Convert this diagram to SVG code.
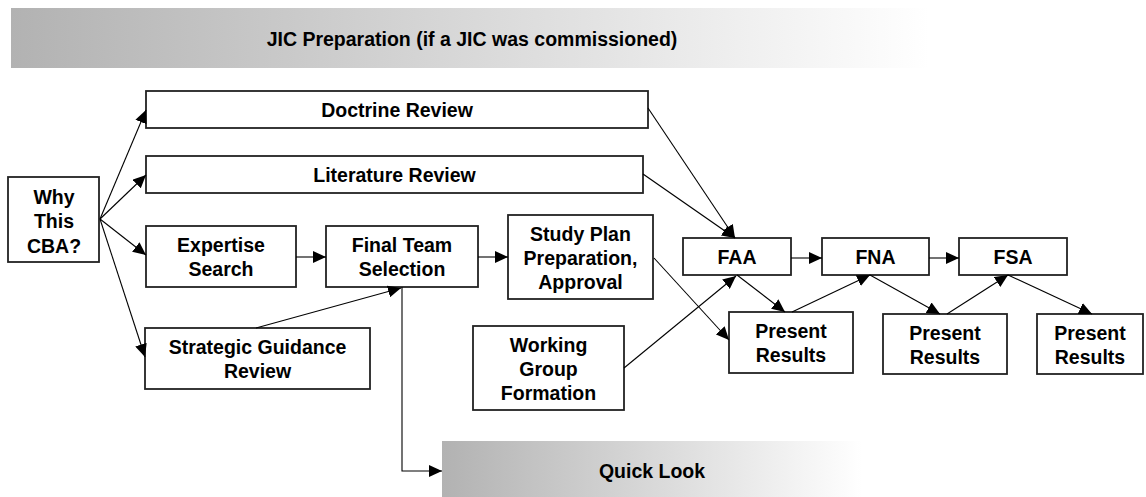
<svg xmlns="http://www.w3.org/2000/svg" width="1146" height="497" viewBox="0 0 1146 497">
<defs>
<linearGradient id="fade" x1="0" y1="0" x2="1" y2="0">
<stop offset="0" stop-color="#b2b2b2"/>
<stop offset="1" stop-color="#ffffff"/>
</linearGradient>
<marker id="arr" markerUnits="userSpaceOnUse" markerWidth="14" markerHeight="12" refX="13" refY="6" orient="auto">
<path d="M0,0 L13,6 L0,12 Z" fill="#000"/>
</marker>
</defs>
<style>
.box{fill:#fff;stroke:#222;stroke-width:1.8}
.t{font-family:"Liberation Sans",Arial,sans-serif;font-weight:bold;font-size:19.5px;fill:#000;text-anchor:middle;dominant-baseline:central}
.c{fill:none;stroke:#000;stroke-width:1.1;marker-end:url(#arr)}
</style>
<rect width="1146" height="497" fill="#fff"/>
<g id="jic-banner">
<rect x="11" y="8" width="918" height="60" fill="url(#fade)"/>
<text class="t" x="472" y="39">JIC Preparation (if a JIC was commissioned)</text>
</g>
<g id="quick-look">
<rect x="442" y="441" width="420" height="60" fill="url(#fade)"/>
<text class="t" x="652" y="471">Quick Look</text>
</g>
<g id="why">
<rect class="box" x="8" y="177" width="91" height="85"/>
<text class="t" x="54" y="197">Why</text>
<text class="t" x="54" y="221">This</text>
<text class="t" x="54" y="246">CBA?</text>
</g>
<g id="doctrine">
<rect class="box" x="146" y="91" width="502" height="37"/>
<text class="t" x="397" y="110">Doctrine Review</text>
</g>
<g id="literature">
<rect class="box" x="146" y="156" width="497" height="37"/>
<text class="t" x="394.5" y="175">Literature Review</text>
</g>
<g id="expertise">
<rect class="box" x="146" y="226" width="150" height="61"/>
<text class="t" x="221" y="245">Expertise</text>
<text class="t" x="221" y="269">Search</text>
</g>
<g id="final-team">
<rect class="box" x="326" y="226" width="152" height="61"/>
<text class="t" x="402" y="245">Final Team</text>
<text class="t" x="402" y="269">Selection</text>
</g>
<g id="study-plan">
<rect class="box" x="508" y="215" width="145" height="84"/>
<text class="t" x="580.5" y="234">Study Plan</text>
<text class="t" x="580.5" y="258">Preparation,</text>
<text class="t" x="580.5" y="282">Approval</text>
</g>
<g id="strategic">
<rect class="box" x="145" y="328" width="225" height="61"/>
<text class="t" x="257.5" y="347">Strategic Guidance</text>
<text class="t" x="257.5" y="371">Review</text>
</g>
<g id="working-group">
<rect class="box" x="473" y="326" width="151" height="84"/>
<text class="t" x="548.5" y="345">Working</text>
<text class="t" x="548.5" y="369">Group</text>
<text class="t" x="548.5" y="393">Formation</text>
</g>
<g id="faa">
<rect class="box" x="683" y="238" width="108" height="37"/>
<text class="t" x="737" y="257">FAA</text>
</g>
<g id="fna">
<rect class="box" x="822" y="238" width="107" height="37"/>
<text class="t" x="875.5" y="257">FNA</text>
</g>
<g id="fsa">
<rect class="box" x="959" y="238" width="108" height="37"/>
<text class="t" x="1013" y="257">FSA</text>
</g>
<g id="present1">
<rect class="box" x="729" y="312" width="124" height="61"/>
<text class="t" x="791" y="331">Present</text>
<text class="t" x="791" y="355">Results</text>
</g>
<g id="present2">
<rect class="box" x="883" y="314" width="124" height="60"/>
<text class="t" x="945" y="333">Present</text>
<text class="t" x="945" y="357">Results</text>
</g>
<g id="present3">
<rect class="box" x="1037" y="314" width="106" height="60"/>
<text class="t" x="1090" y="333">Present</text>
<text class="t" x="1090" y="357">Results</text>
</g>
<g id="connectors">
<path class="c" d="M100,219 L146,110"/>
<path class="c" d="M100,219 L146,175"/>
<path class="c" d="M100,219 L146,255"/>
<path class="c" d="M100,219 L145,357"/>
<path class="c" d="M296,257 L326,257"/>
<path class="c" d="M478,257 L508,257"/>
<path class="c" d="M256,328 L401,288"/>
<path class="c" d="M402,287 L402,471 L442,471"/>
<path class="c" d="M648,108 L735,238"/>
<path class="c" d="M643,174 L735,238"/>
<path class="c" d="M654,258 L729,340"/>
<path class="c" d="M624,368 L736,276"/>
<path class="c" d="M737,275 L785,312"/>
<path class="c" d="M792,312 L870,275"/>
<path class="c" d="M870,275 L940,314"/>
<path class="c" d="M947,314 L1008,275"/>
<path class="c" d="M1008,275 L1092,314"/>
<path class="c" d="M791,258 L822,258"/>
<path class="c" d="M929,258 L959,258"/>
</g>
</svg>
